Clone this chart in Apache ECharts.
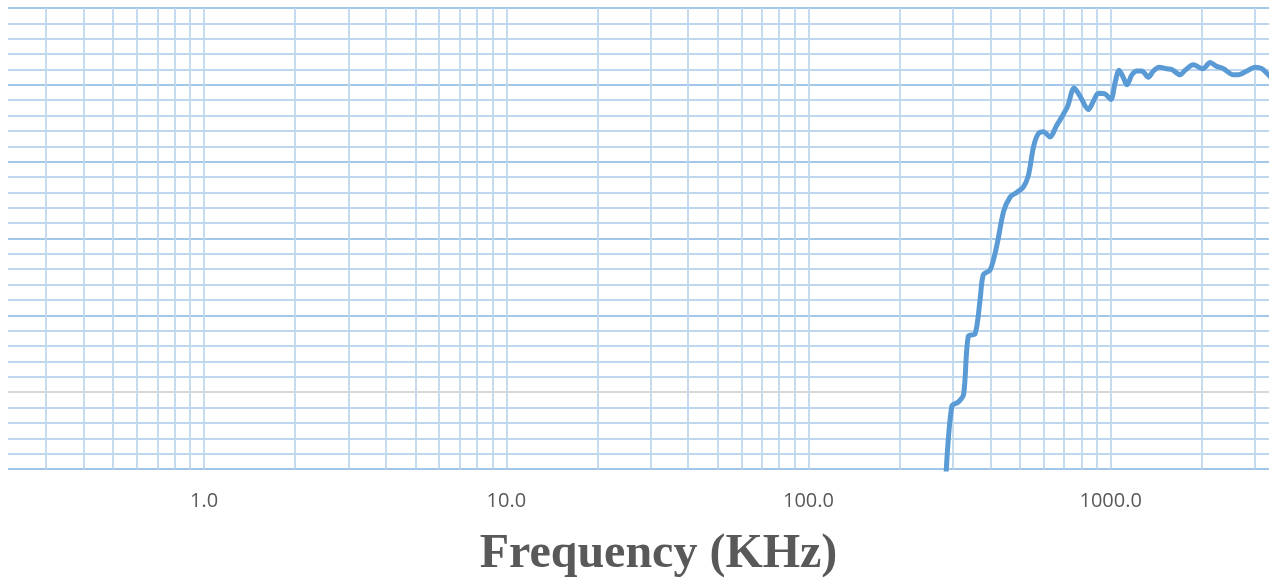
<!DOCTYPE html>
<html>
<head>
<meta charset="utf-8">
<script src="https://cdn.jsdelivr.net/npm/echarts@6/dist/echarts.min.js"></script>
<style>
html,body{margin:0;padding:0;background:#fff;}
#chart{width:1269px;height:584px;}
</style>
</head>
<body>
<div id="chart"></div>
<script>
// Data (frequency in KHz, response value)
const freqKHz = [284, 298, 313, 326, 338, 356, 370, 379, 399, 420, 442, 465, 489, 514, 534, 555, 575, 599, 630, 660, 698, 720, 757, 792, 844, 877, 911, 958, 1001, 1034, 1066, 1102, 1131, 1175, 1220, 1267, 1332, 1384, 1446, 1534, 1593, 1697, 1763, 1878, 2017, 2133, 2244, 2360, 2547, 2646, 2821, 3005, 3162, 3325, 3450];
const response = [-12, -1.8, -1.3, -0.3, 7.3, 7.6, 12.2, 15.3, 15.9, 19.1, 23.5, 25.4, 26.0, 26.7, 28.2, 31.9, 33.6, 33.9, 33.2, 34.6, 36.2, 37.2, 39.6, 38.5, 36.8, 37.9, 38.9, 38.8, 38.1, 40.3, 41.9, 40.9, 40.0, 41.3, 41.8, 41.8, 41.0, 41.8, 42.3, 42.1, 42.0, 41.3, 41.9, 42.6, 42.1, 42.9, 42.4, 42.1, 41.3, 41.3, 41.8, 42.3, 42.1, 41.3, 40.6];
const xTickLabels = [1, 10, 100, 1000];
const xGridValues = [0.3,0.4,0.5,0.6,0.7,0.8,0.9,1,2,3,4,5,6,7,8,9,10,20,30,40,50,60,70,80,90,100,200,300,400,500,600,700,800,900,1000,2000,3000];
const xName = 'Frequency (KHz)';

const points = freqKHz.map((f, i) => [f, response[i]]);

const chart = echarts.init(document.getElementById('chart'), null, {renderer: 'canvas'});
chart.setOption({
  animation: false,
  backgroundColor: '#ffffff',
  grid: {left: 8, right: 0, top: 8, bottom: 112, containLabel: false},
  xAxis: {
    type: 'log',
    logBase: 10,
    min: 0.2245,
    max: 3340,
    axisLine: {show: false},
    axisTick: {show: false},
    splitLine: {show: false},
    axisLabel: {
      margin: 22,
      fontFamily: 'Open Sans',
      fontSize: 20,
      color: '#595959',
      showMinLabel: false,
      showMaxLabel: false,
      formatter: function (v) {
        for (const t of xTickLabels) {
          if (Math.abs(v - t) / t < 1e-6) return t.toFixed(1);
        }
        return '';
      }
    },
    name: xName,
    nameLocation: 'middle',
    nameGap: 62,
    nameTextStyle: {
      fontFamily: 'Liberation Serif',
      fontWeight: 'bold',
      fontSize: 48,
      color: '#595959',
      padding: [0, 0, 0, 40]
    }
  },
  yAxis: {
    type: 'value',
    min: -10,
    max: 50,
    interval: 10,
    axisLine: {show: false},
    axisTick: {show: false},
    axisLabel: {show: false},
    splitLine: {show: true, lineStyle: {color: '#A3C7E8', width: 1.8}},
    minorTick: {show: false, splitNumber: 5},
    minorSplitLine: {show: true, lineStyle: {color: '#BED7EF', width: 1.8}}
  },
  series: [
    {
      type: 'line',
      data: [],
      z: 1,
      silent: true,
      markLine: {
        silent: true,
        symbol: 'none',
        label: {show: false},
        animation: false,
        data: xGridValues.map(v => ({xAxis: v, lineStyle: {color: '#BED7EF', width: 1.8, type: 'solid'}}))
          .concat([{yAxis: 0, lineStyle: {color: '#D9D9D9', width: 1.8, type: 'solid'}}])
      }
    },
    {
      type: 'line',
      data: points,
      z: 5,
      smooth: 0.3,
      showSymbol: false,
      symbol: 'none',
      clip: true,
      lineStyle: {color: '#5B9BD5', width: 5, cap: 'round', join: 'round'}
    }
  ]
});
</script>
</body>
</html>
